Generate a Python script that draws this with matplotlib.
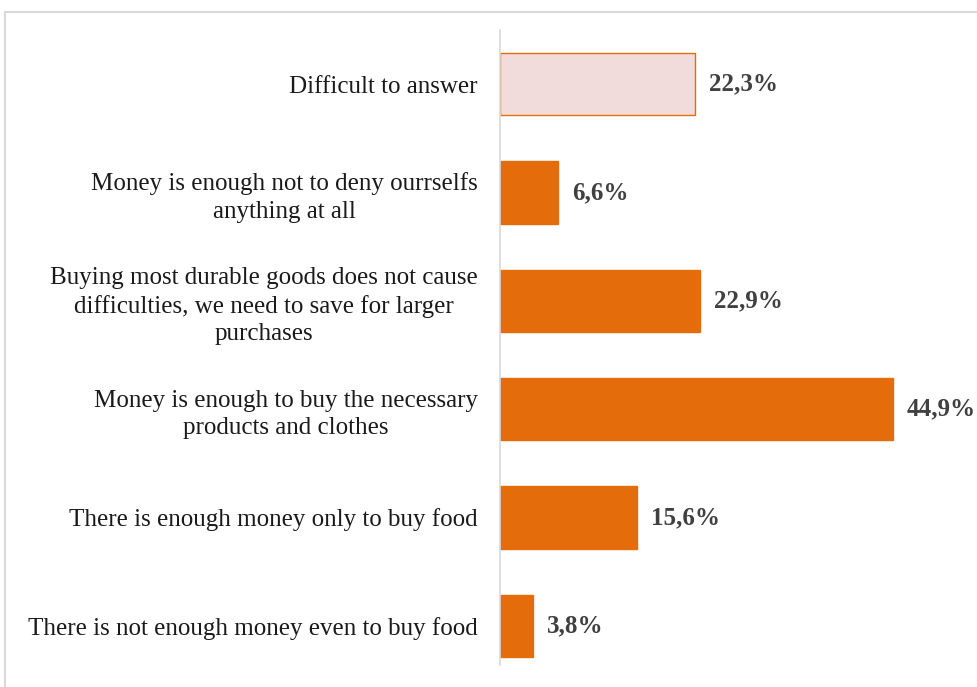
import matplotlib.pyplot as plt
import matplotlib.patches as mpatches

plt.rcParams['font.family'] = ['Liberation Serif', 'DejaVu Serif']

categories = [
    "There is not enough money even to buy food",
    "There is enough money only to buy food",
    "Money is enough to buy the necessary\nproducts and clothes",
    "Buying most durable goods does not cause\ndifficulties, we need to save for larger\npurchases",
    "Money is enough not to deny ourrselfs\nanything at all",
    "Difficult to answer",
]
values = [3.8, 15.6, 44.9, 22.9, 6.6, 22.3]
value_labels = ["3,8%", "15,6%", "44,9%", "22,9%", "6,6%", "22,3%"]

orange = "#E46C0A"
pale = "#F2DCDB"

fig = plt.figure(figsize=(9.77, 6.87), dpi=100)
ax = fig.add_axes([500 / 977, 1 - 680 / 687, 477 / 977, 650 / 687])

# light frame around the chart area
fig.patches.append(mpatches.Rectangle((5 / 977, -0.05), 1.2, 1 - 12 / 687 + 0.05,
                                      transform=fig.transFigure, fill=False,
                                      edgecolor="#D9D9D9", linewidth=1.5))

y = range(len(categories))
face = [orange] * 5 + [pale]
ax.barh(y, values, height=0.575, color=face, edgecolor=orange, linewidth=1)

for i, (v, lab) in enumerate(zip(values, value_labels)):
    ax.text(v + 1.6, i, lab, va='center', ha='left', fontsize=18,
            fontweight='bold', color='#404040')

ax.set_xlim(0, 54.5)
ax.set_ylim(-0.5, len(categories) - 0.5)
ax.set_yticks(list(y))
ax.set_yticklabels(categories, fontsize=18, multialignment='center',
                   color='#1a1a1a', linespacing=1.3)
ax.tick_params(axis='y', length=0, pad=16)
ax.set_xticks([])
for s in ['top', 'right', 'bottom']:
    ax.spines[s].set_visible(False)
ax.spines['left'].set_color('#D9D9D9')
ax.spines['left'].set_linewidth(1.2)
ax.spines['left'].set_bounds(-0.36, 5.5)

plt.savefig("out.png", dpi=100)
